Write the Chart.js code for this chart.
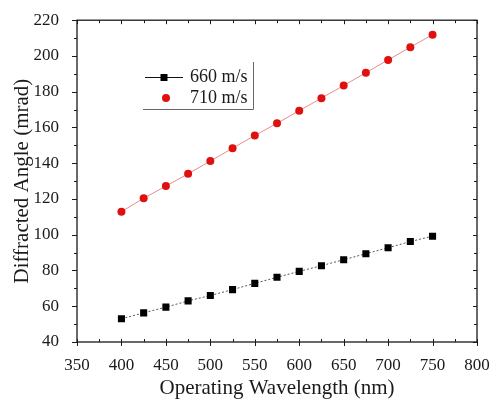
<!DOCTYPE html>
<html>
<head>
<meta charset="utf-8">
<script src="https://cdn.jsdelivr.net/npm/chart.js@4.4.1/dist/chart.umd.min.js"></script>
<style>
  html, body { margin: 0; padding: 0; background: #fff; }
  #wrap { width: 500px; height: 405px; position: relative; }
</style>
</head>
<body>
<div id="wrap"><canvas id="chart"></canvas></div>
<script>
// values
const wavelengths = [400, 425, 450, 475, 500, 525, 550, 575, 600, 625, 650, 675, 700, 725, 750];
const angles660 = [53.0, 56.3, 59.5, 63.0, 66.0, 69.3, 72.8, 76.2, 79.5, 82.7, 86.0, 89.4, 92.7, 96.2, 99.2];
const angles710 = [112.9, 120.4, 127.2, 134.1, 141.2, 148.4, 155.5, 162.3, 169.4, 176.4, 183.5, 190.6, 197.8, 204.9, 211.9];
const seriesLabels = ['660 m/s', '710 m/s'];

const FONT = "'Liberation Serif', 'Times New Roman', serif";
const INK = '#1a1a1a';

// box frame with Origin-style ticks on all four sides
const frameTicks = {
    id: 'frameTicks',
    afterDatasetsDraw(chart) {
        const { ctx, chartArea: a, scales: { x, y } } = chart;
        ctx.save();
        ctx.strokeStyle = INK;
        ctx.lineWidth = 1.3;
        ctx.strokeRect(a.left, a.top, a.right - a.left, a.bottom - a.top);
        ctx.lineWidth = 1;
        ctx.beginPath();
        for (let v = 350; v <= 800; v += 25) {
            const px = Math.round(x.getPixelForValue(v)) + 0.5;
            const major = v % 50 === 0;
            // bottom: major outward, minor inward
            if (major) { ctx.moveTo(px, a.bottom); ctx.lineTo(px, a.bottom + 4); }
            ctx.moveTo(px, a.bottom); ctx.lineTo(px, a.bottom - 3);
            // top: inward
            ctx.moveTo(px, a.top); ctx.lineTo(px, a.top + (major ? 4 : 3));
        }
        for (let v = 40; v <= 220; v += 10) {
            const py = Math.round(y.getPixelForValue(v)) + 0.5;
            const major = v % 20 === 0;
            // left: outward
            ctx.moveTo(a.left, py); ctx.lineTo(a.left - (major ? 5 : 3), py);
            // right: inward
            ctx.moveTo(a.right, py); ctx.lineTo(a.right - (major ? 4 : 3), py);
        }
        ctx.stroke();
        ctx.restore();
    }
};

// legend as in the figure: line+square for the first, marker only for the second
const boxLegend = {
    id: 'boxLegend',
    afterDraw(chart) {
        const { ctx } = chart;
        const ds = chart.data.datasets;
        ctx.save();
        ctx.font = '18px ' + FONT;
        ctx.textBaseline = 'middle';

        ctx.strokeStyle = '#111';
        ctx.lineWidth = 1;
        ctx.beginPath();
        ctx.moveTo(145, 77.5); ctx.lineTo(183, 77.5);
        ctx.stroke();
        ctx.fillStyle = ds[0].pointBackgroundColor;
        ctx.fillRect(160.5, 74, 7, 7);
        ctx.fillStyle = INK;
        ctx.fillText(seriesLabels[0], 190, 77);

        ctx.fillStyle = ds[1].pointBackgroundColor;
        ctx.beginPath();
        ctx.arc(166, 98, 4, 0, Math.PI * 2);
        ctx.fill();
        ctx.fillStyle = INK;
        ctx.fillText(seriesLabels[1], 190, 98);

        ctx.strokeStyle = '#666';
        ctx.beginPath();
        ctx.moveTo(143, 109.5); ctx.lineTo(253.5, 109.5); ctx.lineTo(253.5, 62);
        ctx.stroke();
        ctx.restore();
    }
};

new Chart(document.getElementById('chart'), {
    type: 'line',
    data: {
        labels: wavelengths,
        datasets: [
            {
                label: seriesLabels[0],
                data: wavelengths.map((w, i) => ({ x: w, y: angles660[i] })),
                borderColor: '#555',
                borderWidth: 1,
                borderDash: [2, 2],
                pointStyle: 'rect',
                pointRadius: 5,
                pointBackgroundColor: '#000',
                pointBorderWidth: 0
            },
            {
                label: seriesLabels[1],
                data: wavelengths.map((w, i) => ({ x: w, y: angles710[i] })),
                borderColor: 'rgba(225, 90, 90, 0.7)',
                borderWidth: 1,
                pointStyle: 'circle',
                pointRadius: 4,
                pointBackgroundColor: '#e01010',
                pointBorderWidth: 0
            }
        ]
    },
    options: {
        responsive: true,
        maintainAspectRatio: false,
        animation: false,
        layout: { padding: { top: 18, right: 23, left: 0, bottom: 0 } },
        plugins: { legend: { display: false }, tooltip: { enabled: false } },
        scales: {
            x: {
                type: 'linear',
                min: 350,
                max: 800,
                afterFit: (s) => { s.height = 63; },
                border: { display: false },
                grid: { display: false },
                ticks: { stepSize: 50, color: INK, padding: 5, font: { family: FONT, size: 17 } },
                title: {
                    display: true,
                    text: 'Operating Wavelength (nm)',
                    color: INK,
                    font: { family: FONT, size: 21 },
                    padding: { bottom: 4 }
                }
            },
            y: {
                min: 40,
                max: 220,
                afterFit: (s) => { s.width = 77; },
                border: { display: false },
                grid: { display: false },
                ticks: { stepSize: 20, color: INK, padding: 10, font: { family: FONT, size: 17 } },
                title: {
                    display: true,
                    text: 'Diffracted Angle (mrad)',
                    color: INK,
                    font: { family: FONT, size: 21 },
                    padding: { top: 10 }
                }
            }
        }
    },
    plugins: [frameTicks, boxLegend]
});
</script>
</body>
</html>
